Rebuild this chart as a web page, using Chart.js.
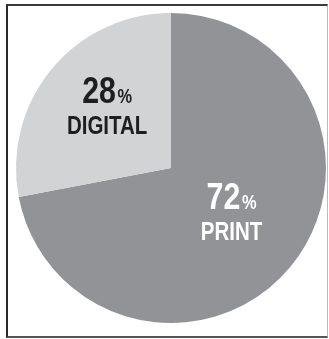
<!DOCTYPE html>
<html>
<head>
<meta charset="utf-8">
<script src="https://cdn.jsdelivr.net/npm/chart.js@4/dist/chart.umd.min.js"></script>
<style>
  html, body { margin: 0; padding: 0; background: #fff; }
  #wrap { position: relative; width: 329px; height: 339px; }
  #frame {
    position: absolute; left: 6px; top: 4px; width: 319px; height: 330px;
    border-left: 2px solid #2a2a2a; border-top: 2px solid #3a3a3a;
    border-bottom: 2px solid #555; border-right: 1px solid #bbb;
  }
  canvas { position: absolute; left: 0; top: 0; }
</style>
</head>
<body>
<div id="wrap">
  <div id="frame"></div>
  <canvas id="c" width="329" height="339"></canvas>
</div>
<script>
// Anteile in Prozent, Reihenfolge im Uhrzeigersinn ab 12 Uhr
const labels = ['PRINT', 'DIGITAL'];
const values = [72, 28];
const colors = ['#929396', '#d2d3d5'];
const textColors = ['#ffffff', '#1e1e1e'];

// Beschriftung: Zahl gross, % klein, Name darunter (schmal gestaucht)
const sliceLabels = {
  id: 'sliceLabels',
  afterDatasetsDraw(chart) {
    const { ctx } = chart;
    const meta = chart.getDatasetMeta(0);
    // radius-faktor und winkel-versatz je segment
    const place = [{ r: 0.48, a: -0.07 }, { r: 0.58, a: 0.09 }];
    const font = '"Liberation Sans", Arial, sans-serif';
    meta.data.forEach((arc, i) => {
      const mid = (arc.startAngle + arc.endAngle) / 2 + place[i].a;
      const rr = arc.outerRadius * place[i].r;
      const cx = arc.x + Math.cos(mid) * rr;
      const cy = arc.y + Math.sin(mid) * rr;
      ctx.save();
      ctx.translate(cx, cy);
      ctx.scale(0.82, 1);
      ctx.fillStyle = textColors[i];
      ctx.textBaseline = 'alphabetic';
      const num = String(values[i]);
      ctx.font = 'bold 37px ' + font;
      const wNum = ctx.measureText(num).width;
      ctx.font = 'bold 20px ' + font;
      const wPct = ctx.measureText('%').width;
      const x0 = -(wNum + 2 + wPct) / 2;
      ctx.font = 'bold 37px ' + font;
      ctx.textAlign = 'left';
      ctx.fillText(num, x0, -2);
      ctx.font = 'bold 20px ' + font;
      ctx.fillText('%', x0 + wNum + 2, -2);
      ctx.font = 'bold 25px ' + font;
      ctx.textAlign = 'center';
      ctx.fillText(labels[i], 0, 29);
      ctx.restore();
    });
  }
};

new Chart(document.getElementById('c'), {
  type: 'pie',
  data: {
    labels,
    datasets: [{
      data: values,
      backgroundColor: colors,
      borderWidth: 0,
    }],
  },
  options: {
    responsive: false,
    animation: false,
    layout: { padding: { left: 16, right: 3, top: 13, bottom: 16 } },
    plugins: {
      legend: { display: false },
      tooltip: { enabled: false },
    },
  },
  plugins: [sliceLabels],
});
</script>
</body>
</html>
